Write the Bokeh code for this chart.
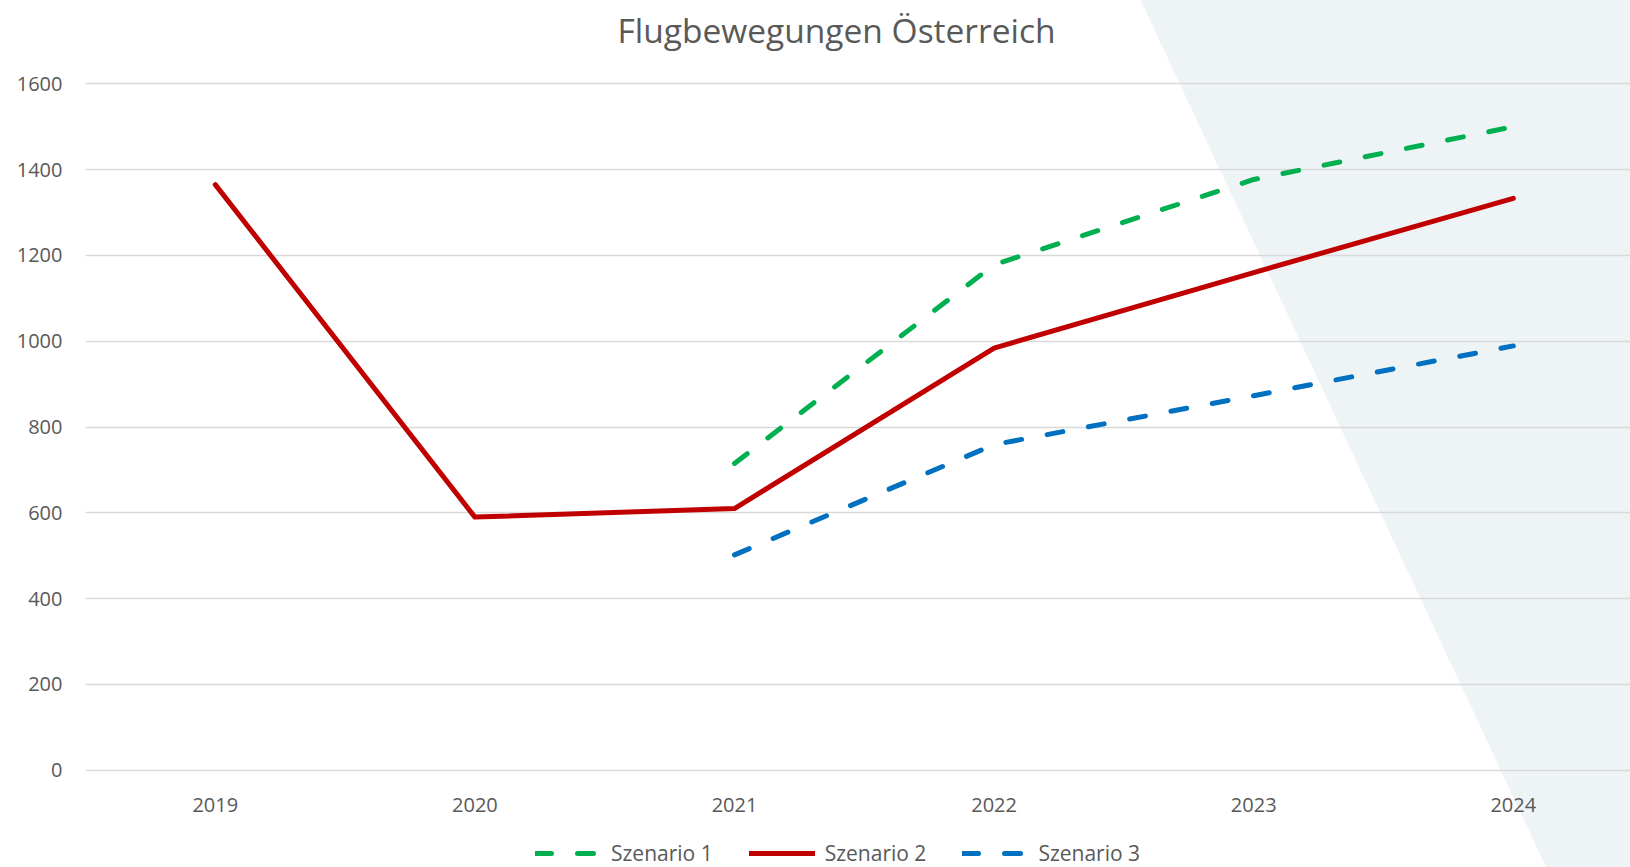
from urllib.parse import quote
from bokeh.plotting import figure
from bokeh.layouts import column
from bokeh.models import Range1d, FixedTicker, Legend, LegendItem, Label
from bokeh.embed import file_html
from bokeh.resources import INLINE

# ---- data ----
years = [2019, 2020, 2021, 2022, 2023, 2024]
szenario1_years = [2021, 2022, 2023, 2024]
szenario1 = [715, 1178, 1377, 1500]
szenario2_years = [2019, 2020, 2021, 2022, 2023, 2024]
szenario2 = [1365, 590, 610, 984, 1160, 1333]
szenario3_years = [2021, 2022, 2023, 2024]
szenario3 = [502, 759, 873, 989]
y_ticks = [0, 200, 400, 600, 800, 1000, 1200, 1400, 1600]
title_text = "Flugbewegungen Österreich"
series_names = ["Szenario 1", "Szenario 2", "Szenario 3"]

FONT = "Open Sans"
TEXT = "#595959"
GREEN = "#00B050"
RED = "#C00000"
BLUE = "#0070C0"
BG_TRI = "#EEF3F6"

CW, CH = 1630, 867
LEFT = 85
FW, FH = 1545, 695
TITLE_H = 58
MAIN_TOP = 79 - TITLE_H
MAIN_H = 822 - TITLE_H
LEG_H = CH - 822


def tri_x(y):
    # decorative diagonal edge of the light background area (page pixels)
    return 1140.5 + 405.5 * y / 867.0


def bg_style(y0, h):
    pts = [(tri_x(y0 - 5), -5), (CW + 20, -5), (CW + 20, h + 5), (tri_x(y0 + h + 5), h + 5)]
    pts_s = " ".join(f"{x:.1f},{y:.1f}" for x, y in pts)
    svg = (f"<svg xmlns='http://www.w3.org/2000/svg' width='{CW}' height='{h}' "
           f"viewBox='0 0 {CW} {h}' preserveAspectRatio='none'>"
           f"<rect width='{CW}' height='{h}' fill='white'/>"
           f"<polygon points='{pts_s}' fill='{BG_TRI}'/></svg>")
    url = "url(\"data:image/svg+xml;charset=utf-8," + quote(svg) + "\")"
    return {"background-image": url, "background-size": "100% 100%",
            "background-repeat": "no-repeat"}


def bare(fig):
    fig.outline_line_color = None
    fig.background_fill_color = None
    fig.border_fill_color = None
    fig.xgrid.visible = False
    fig.ygrid.visible = False


# ---- title strip ----
t = figure(width=CW, height=TITLE_H, output_backend="svg", toolbar_location=None,
           x_range=Range1d(0, FW), y_range=Range1d(0, TITLE_H),
           x_axis_type=None, y_axis_type=None,
           min_border_left=0, min_border_right=0, min_border_top=0, min_border_bottom=0,
           styles=bg_style(0, TITLE_H))
bare(t)
t.add_layout(Label(x=532, y=TITLE_H - 29, text=title_text, text_font=FONT,
                   text_font_size="33.5px", text_color=TEXT, text_align="left",
                   text_baseline="middle"))

# ---- main chart ----
p = figure(frame_width=FW, frame_height=FH, output_backend="svg", toolbar_location=None,
           x_range=Range1d(2018.5, 2018.5 + FW / 259.6),
           y_range=Range1d(-10, 1610),
           min_border_left=LEFT, min_border_right=0, min_border_top=MAIN_TOP,
           min_border_bottom=MAIN_H - MAIN_TOP - FH,
           styles=bg_style(TITLE_H, MAIN_H))
p.outline_line_color = None
p.background_fill_color = None
p.border_fill_color = None

p.xaxis.ticker = FixedTicker(ticks=years)
p.yaxis.ticker = FixedTicker(ticks=y_ticks)
for ax in (p.xaxis[0], p.yaxis[0]):
    ax.axis_line_color = None
    ax.major_tick_line_color = None
    ax.minor_tick_line_color = None
    ax.major_label_text_font = FONT
    ax.major_label_text_font_size = "20px"
    ax.major_label_text_color = TEXT
p.xaxis.major_label_standoff = 17
p.yaxis.major_label_standoff = 17

p.xgrid.grid_line_color = None
p.ygrid.ticker = FixedTicker(ticks=y_ticks)
p.ygrid.grid_line_color = "#D9D9D9"
p.ygrid.grid_line_width = 1.5

styles = [dict(line_color=GREEN, line_width=5, line_dash="16 26"),
          dict(line_color=RED, line_width=5),
          dict(line_color=BLUE, line_width=5, line_dash="16 26")]
series = [(szenario1_years, szenario1), (szenario2_years, szenario2),
          (szenario3_years, szenario3)]
for (xs, ys), st in zip(series, styles):
    p.line(xs, ys, line_cap="round", line_join="round", **st)

# ---- legend strip below the chart ----
q = figure(width=CW, height=LEG_H, output_backend="svg", toolbar_location=None,
           x_range=Range1d(0, 1), y_range=Range1d(0, 1),
           x_axis_type=None, y_axis_type=None,
           min_border_left=0, min_border_right=0, min_border_top=0, min_border_bottom=0,
           styles=bg_style(822, LEG_H))
bare(q)
# same series drawn here only to feed the legend (outside this strip's view)
leg_renderers = [q.line(xs, ys, line_cap="round", line_join="round", **st)
                 for (xs, ys), st in zip(series, styles)]

legend = Legend(items=[LegendItem(label=n, renderers=[r])
                       for n, r in zip(series_names, leg_renderers)],
                orientation="horizontal", location=(450, 0),
                glyph_width=66, glyph_height=20, label_standoff=10,
                spacing=36, padding=0, margin=0,
                label_text_font=FONT, label_text_font_size="21px",
                label_text_color=TEXT, background_fill_alpha=0,
                border_line_color=None)
q.add_layout(legend, "center")

layout = column(t, p, q, spacing=0)
open("out.html", "w").write(file_html(layout, INLINE))
